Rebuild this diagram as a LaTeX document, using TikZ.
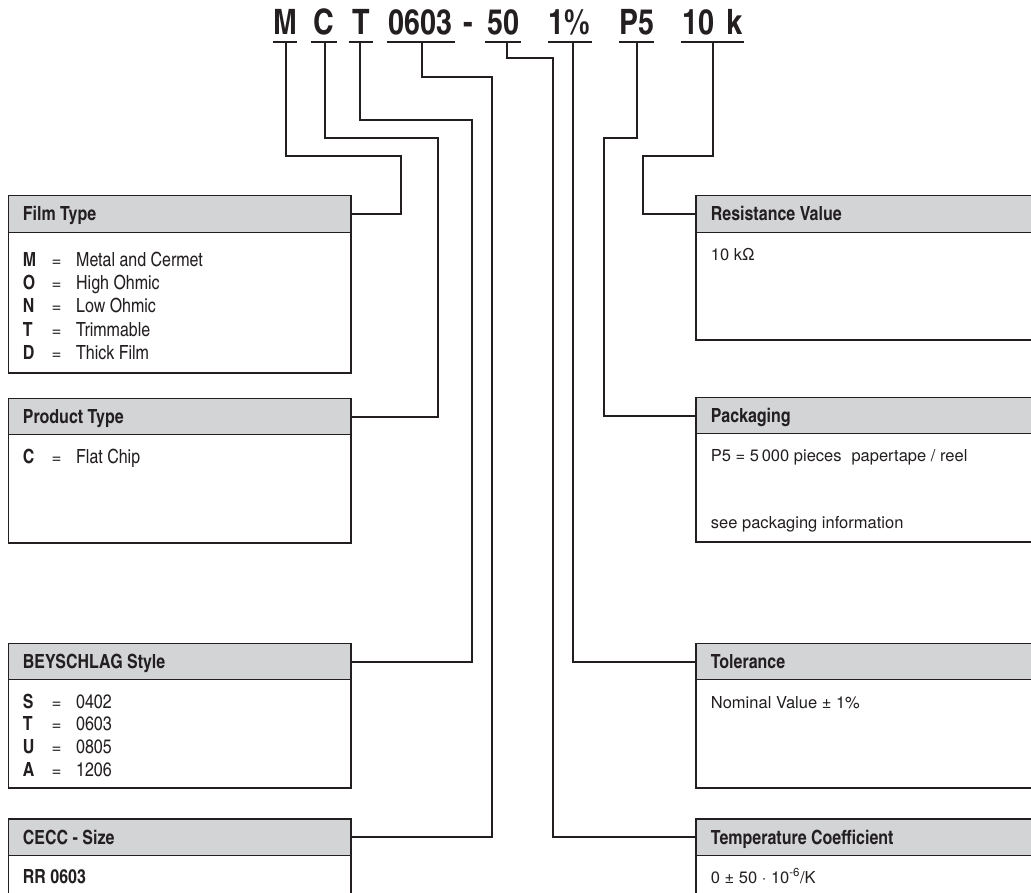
\documentclass[tikz,border=0pt]{standalone}
\usepackage{fontspec}
\newfontfamily\cn{texgyreheroscn}[Extension=.otf,UprightFont=*-regular,BoldFont=*-bold]
\newfontfamily\hv{texgyreheros}[Extension=.otf,UprightFont=*-regular,BoldFont=*-bold]
\definecolor{hdr}{RGB}{211,212,214}
\definecolor{ink}{RGB}{35,31,32}
\newcommand\infobox[5]{% name, x1, ytop, x2, ybottom
  \fill[hdr] (#2,#3) rectangle (#4,#3+36.5);
  \draw[frame] (#2,#3) rectangle (#4,#5);
  \draw[frame] (#2,#3+36.5) -- (#4,#3+36.5);
  \coordinate (#1L) at (#2,#3+18.3);
  \coordinate (#1R) at (#4,#3+18.3);
}
\begin{document}
\begin{tikzpicture}[x=1pt,y=-1pt,
  conn/.style={draw=ink,line width=2pt},
  uline/.style={draw=ink,line width=2pt},
  frame/.style={draw=ink,line width=1.3pt},
  code/.style={anchor=base,inner sep=0pt,text=ink,font=\cn\bfseries\fontsize{35}{35}\selectfont},
  head/.style={anchor=base west,inner sep=0pt,text=ink,font=\cn\bfseries\fontsize{19.5}{19.5}\selectfont},
  lbody/.style={anchor=base west,inner sep=0pt,text=ink,font=\cn\fontsize{19.5}{19.5}\selectfont},
  leq/.style={anchor=base west,inner sep=0pt,text=ink,font=\hv\fontsize{17}{17}\selectfont},
  lkey/.style={anchor=base west,inner sep=0pt,text=ink,font=\cn\bfseries\fontsize{19.5}{19.5}\selectfont},
  rbody/.style={anchor=base west,inner sep=0pt,text=ink,font=\hv\fontsize{16.5}{16.5}\selectfont}]
\useasboundingbox (0,0) rectangle (1031,892);
\fill[white] (0,0) rectangle (1031,892);

% ---- code line ----
\node[code] (hM) at (285,34) {M};
\node[code] (hC) at (324,34) {C};
\node[code] (hT) at (361,34) {T};
\node[code] (h0603) at (420.7,34) {0603};
\node[code] (hdash) at (468,34) {-};
\node[code] (h50) at (503,34) {50};
\node[code] (h1) at (569.7,34) {1\%};
\node[code] (hP5) at (636.7,34) {P5};
\node[code] (h10) at (712.3,34) {10\hspace{0.1em} k};

\draw[uline] (272.7,41.7) -- (297.3,41.7);
\draw[uline] (310.7,41.7) -- (337.3,41.7);
\draw[uline] (348.7,41.7) -- (373.3,41.7);
\draw[uline] (386.7,41.7) -- (454.7,41.7);
\draw[uline] (485.3,41.7) -- (520.7,41.7);
\draw[uline] (547.7,41.7) -- (591.7,41.7);
\draw[uline] (619.3,41.7) -- (654,41.7);
\draw[uline] (680.7,41.7) -- (744,41.7);

% ---- boxes ----
\infobox{film}{8.3}{195.7}{351}{373}
\infobox{prod}{8.3}{398.3}{351}{543}
\infobox{bey}{8.3}{643.3}{351}{788}
\infobox{cecc}{8.3}{819}{351}{900}
\infobox{res}{696}{195.7}{1036}{340}
\infobox{pack}{696}{397.3}{1036}{542}
\infobox{tol}{696}{643.3}{1036}{788}
\infobox{temp}{696}{819}{1036}{900}

% ---- connectors ----
\coordinate (uM) at (286,41.7);     \coordinate (kM) at (401,156.3);
\coordinate (uC) at (325.3,41.7);   \coordinate (kC) at (438.3,137.7);
\coordinate (uT) at (360,41.7);     \coordinate (kT) at (471.7,120);
\coordinate (u0603) at (421.7,41.7);\coordinate (k0603) at (492.3,77.3);
\coordinate (u50) at (507,41.7);    \coordinate (k50) at (552.5,58.3);
\coordinate (u1) at (572.5,41.7);
\coordinate (uP5) at (636.7,41.7);  \coordinate (kP5) at (604,137.7);
\coordinate (u10) at (713.3,41.7);  \coordinate (k10) at (643,156.3);

\draw[conn] (uM) |- (kM) |- (filmR);
\draw[conn] (uC) |- (kC) |- (prodR);
\draw[conn] (uT) |- (kT) |- (beyR);
\draw[conn] (u0603) |- (k0603) |- (ceccR);
\draw[conn] (u50) |- (k50) |- (tempL);
\draw[conn] (u1) |- (tolL);
\draw[conn] (uP5) |- (kP5) |- (packL);
\draw[conn] (u10) |- (k10) |- (resL);

% ---- left texts ----
\node[head] (tfilm) at (22.7,220.7) {Film Type};
\foreach \k/\v/\y [count=\i] in {M/Metal and Cermet/266, O/High Ohmic/289.3, N/Low Ohmic/312.6, T/Trimmable/336, D/Thick Film/359.3}{
  \node[lkey] (fk\i) at (22.7,\y) {\k};
  \node[leq] (fe\i) at (51.5,\y) {=};
  \node[lbody] (fv\i) at (76,\y) {\v};
}
\node[head] (tprod) at (22.7,423.3) {Product Type};
\node[lkey] (pk) at (22.7,463) {C};
\node[leq] (pe) at (51.5,463) {=};
\node[lbody] (pv) at (76,463) {Flat Chip};

\node[head] (tbey) at (22.7,668.3) {BEYSCHLAG Style};
\foreach \k/\v/\y [count=\i] in {S/0402/708, T/0603/730.7, U/0805/753.3, A/1206/776}{
  \node[lkey] (bk\i) at (22.7,\y) {\k};
  \node[leq] (be\i) at (51.5,\y) {=};
  \node[lbody] (bv\i) at (76,\y) {\v};
}
\node[head] (tcecc) at (22.7,844) {CECC - Size};
\node[lkey] (cv) at (22.7,883) {RR 0603};

% ---- right texts ----
\node[head] (tres) at (710.7,220.7) {Resistance Value};
\node[rbody] (rv) at (710.7,260) {10 k\symbol{"03A9}};
\node[head] (tpack) at (710.7,422.3) {Packaging};
\node[rbody] (kv1) at (710.7,461) {P5 = 5\,000 pieces\hspace{0.6em}papertape / reel};
\node[rbody] (kv2) at (710.7,528) {see packaging information};
\node[head] (ttol) at (710.7,668.3) {Tolerance};
\node[rbody] (tv) at (710.7,708) {Nominal Value \textpm{} 1\%};
\node[head] (ttemp) at (710.7,844) {Temperature Coefficient};
\node[rbody] (cv2) at (710.7,883) {0 \textpm{} 50 \textperiodcentered{} 10\textsuperscript{-6}/K};
\end{tikzpicture}
\end{document}
